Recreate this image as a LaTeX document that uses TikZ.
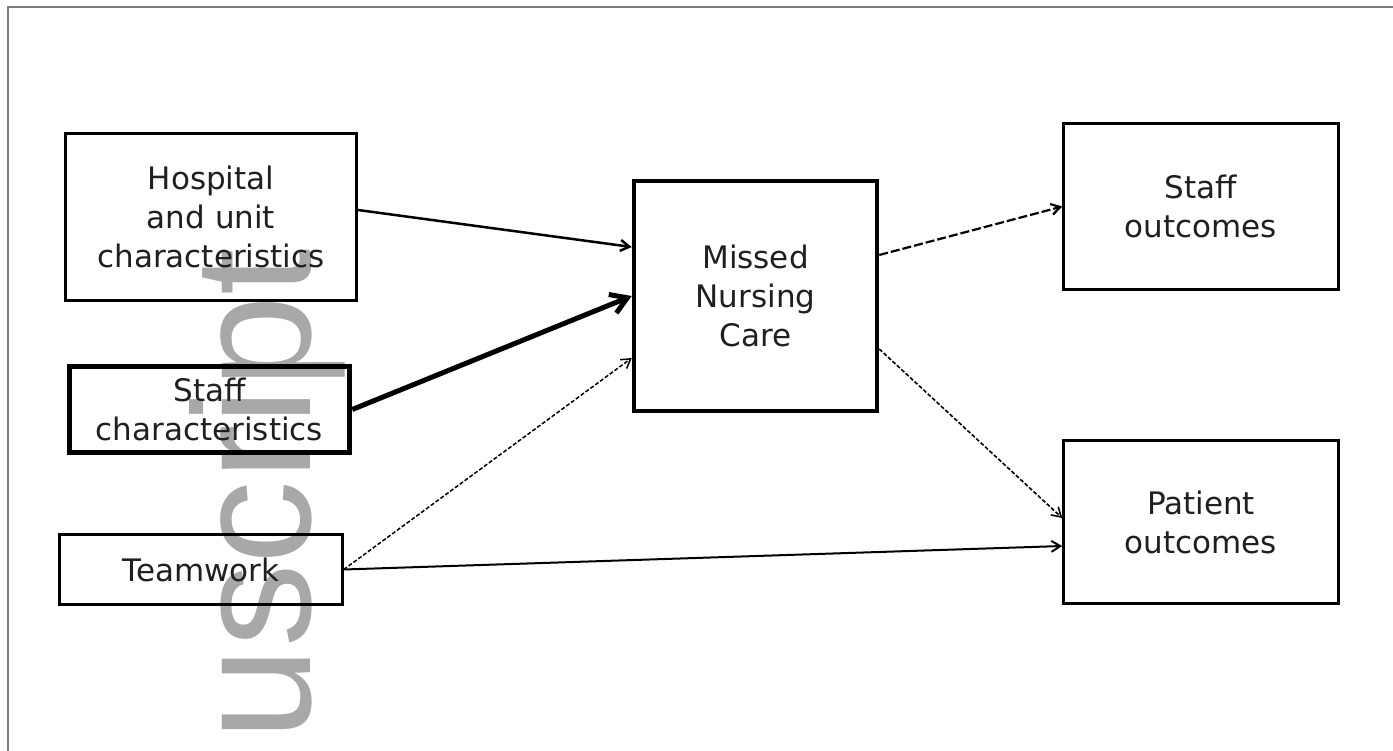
\documentclass[tikz,border=0pt]{standalone}
\usepackage{fontspec}
\setmainfont{DejaVu Sans}
\newfontfamily\wmfont{Liberation Sans}
\usetikzlibrary{arrows.meta,calc}
\definecolor{wmgray}{RGB}{168,168,168}
\definecolor{framegray}{RGB}{125,125,125}
\tikzset{
  box/.style={draw=black, align=center, inner sep=0pt,
    font=\fontsize{31}{39}\selectfont, text=black!88},
  conn/.style={draw=black, -{Straight Barb[length=9pt,width=11pt]}},
  fdash/.style={dash pattern=on 4pt off 2pt},
  mdash/.style={dash pattern=on 9pt off 3pt},
}
\begin{document}
\begin{tikzpicture}[x=1pt,y=-1pt]
\useasboundingbox (0,0) rectangle (1393,751);
% frame
\draw[framegray, line width=2.2pt] (8,751) -- (8,7) -- (1393,7);
% watermark
\node[text=wmgray, font=\fontsize{167}{167}\selectfont\wmfont, rotate=90, anchor=base west, inner sep=0pt] (wm) at (310,741) {uscript};
% boxes
\node[box, line width=3pt, minimum width=291pt, minimum height=167pt] (hosp) at (211,217) {Hospital\\and unit\\characteristics};
\node[box, line width=5.5pt, minimum width=280pt, minimum height=86pt] (staffc) at (209.5,409.5) {Staff\\characteristics};
\node[box, line width=2.5pt, minimum width=283pt, minimum height=70pt] (team) at (201,569.5) {Teamwork};
\node[box, line width=4.5pt, minimum width=243pt, minimum height=230pt] (mnc) at (755.5,296) {Missed\\Nursing\\Care};
\node[box, line width=2.5pt, minimum width=275pt, minimum height=166pt] (staffo) at (1201,206.5) {Staff\\outcomes};
\node[box, line width=2.5pt, minimum width=275pt, minimum height=163pt] (pato) at (1201,522) {Patient\\outcomes};
% connectors
\draw[conn, line width=2.5pt] ($(hosp.east)+(0,-7)$) -- ($(mnc.west)+(0,-49)$);
\draw[draw=black, line width=5pt, -{Straight Barb[length=16pt,width=20pt]}] (staffc.east) -- (mnc.west);
\draw[conn, line width=1.5pt, fdash] (team.east) -- ($(mnc.west)+(0,62)$);
\draw[conn, line width=2pt] (team.east) -- ($(pato.west)+(0,24)$);
\draw[conn, line width=2.2pt, mdash] ($(mnc.east)+(0,-41)$) -- (staffo.west);
\draw[conn, line width=1.6pt, fdash] ($(mnc.east)+(0,53)$) -- ($(pato.west)+(0,-4)$);
\end{tikzpicture}
\end{document}
